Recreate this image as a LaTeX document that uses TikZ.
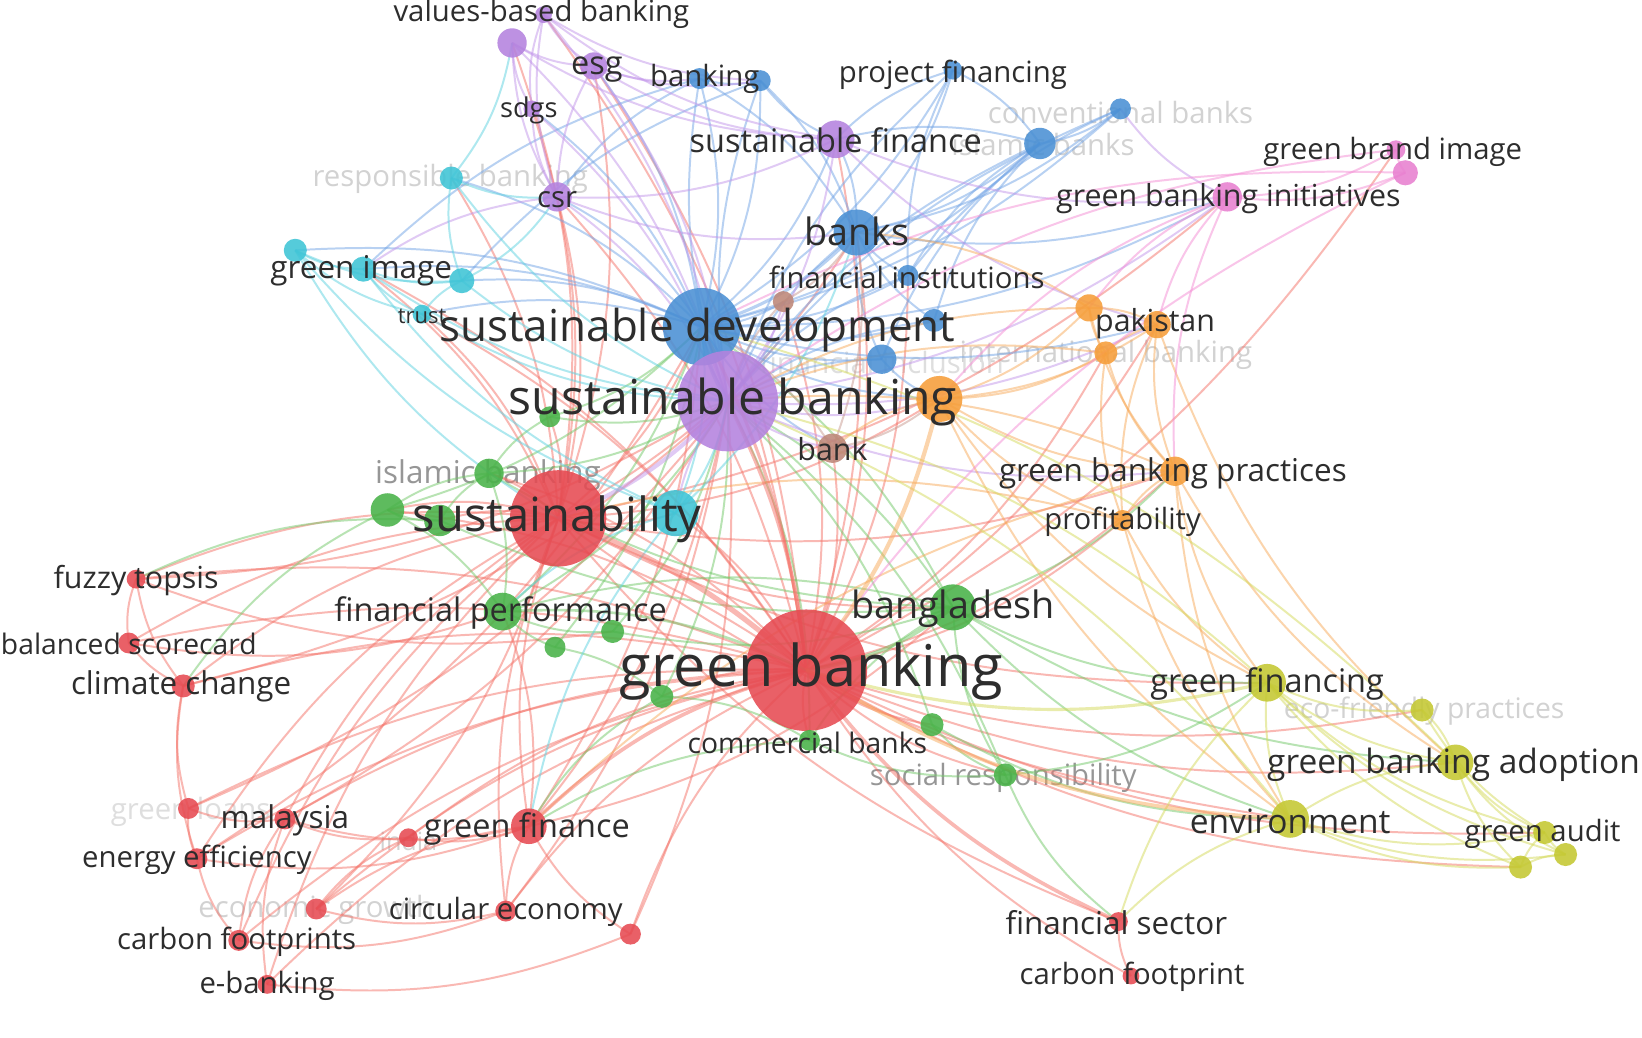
\documentclass[tikz,border=0pt]{standalone}
\usepackage{fontspec}
\setmainfont{Open Sans}
\pgfdeclarelayer{bg}
\pgfdeclarelayer{edges}
\pgfdeclarelayer{faint}
\pgfdeclarelayer{labels}
\pgfsetlayers{bg,faint,edges,main,labels}
\definecolor{cR}{RGB}{230,74,82}
\definecolor{cG}{RGB}{72,178,72}
\definecolor{cB}{RGB}{74,144,212}
\definecolor{cP}{RGB}{180,130,222}
\definecolor{cC}{RGB}{62,196,214}
\definecolor{cO}{RGB}{246,158,58}
\definecolor{cY}{RGB}{196,200,50}
\definecolor{cK}{RGB}{232,128,208}
\definecolor{cN}{RGB}{190,135,120}
\definecolor{eR}{RGB}{245,115,105}
\definecolor{eG}{RGB}{115,200,105}
\definecolor{eB}{RGB}{115,165,230}
\definecolor{eP}{RGB}{195,150,235}
\definecolor{eC}{RGB}{95,210,225}
\definecolor{eO}{RGB}{248,170,90}
\definecolor{eY}{RGB}{212,218,90}
\definecolor{eK}{RGB}{245,140,212}
\definecolor{eN}{RGB}{200,155,145}
\definecolor{labc}{RGB}{45,45,45}
\definecolor{faintc}{RGB}{210,210,210}
\definecolor{vfaintc}{RGB}{222,222,222}
\definecolor{midc}{RGB}{150,150,150}
\tikzset{
  kw/.style={circle, inner sep=0pt, minimum size=#1, fill opacity=0.88},
  lbl/.style={inner sep=0pt, text=labc},
  edgebase/.style={line width=1.9pt, opacity=0.5},
  er/.style={edgebase, draw=eR},
  eg/.style={edgebase, draw=eG},
  eb/.style={edgebase, draw=eB},
  ep/.style={edgebase, draw=eP},
  ec/.style={edgebase, draw=eC},
  eo/.style={edgebase, draw=eO},
  ey/.style={edgebase, draw=eY},
  ek/.style={edgebase, draw=eK},
  en/.style={edgebase, draw=eN},
}
\newcommand\kwn[5]{\node[kw=#4, fill=#5] (#1) at (#2,#3) {};}
\newcommand\kwl[6]{\node[lbl, text=#6, font=\fontsize{#5}{#5}\selectfont] (#1) at (#2,#3+3) {#4};}
\begin{document}
\begin{tikzpicture}[x=1pt,y=-1pt]
\useasboundingbox (0,0) rectangle (1568,991);
\begin{pgfonlayer}{bg}
\fill[white] (0,0) rectangle (1568,991);
\end{pgfonlayer}
% ---------- nodes ----------
% red
\kwn{gb}{770}{640}{116}{cR}
\kwn{sus}{533}{495}{92}{cR}
\kwn{fuz}{130}{553}{18}{cR}
\kwn{bal}{123}{614}{20}{cR}
\kwn{clim}{175}{655}{22}{cR}
\kwn{gloans}{180}{772}{20}{cR}
\kwn{mal}{272}{782}{20}{cR}
\kwn{ind}{390}{800}{18}{cR}
\kwn{gfin}{505}{789}{34}{cR}
\kwn{ee}{188}{820}{20}{cR}
\kwn{eg}{302}{868}{20}{cR}
\kwn{circ}{483}{870}{20}{cR}
\kwn{rx}{602}{892}{20}{cR}
\kwn{cfp}{228}{898}{20}{cR}
\kwn{eb}{255}{940}{18}{cR}
\kwn{fs}{1068}{880}{18}{cR}
\kwn{cf}{1080}{932}{16}{cR}
% green
\kwn{bd}{910}{580}{44}{cG}
\kwn{fp}{480}{584}{36}{cG}
\kwn{isb}{467}{452}{28}{cG}
\kwn{g1}{370}{487}{32}{cG}
\kwn{g2}{420}{497}{30}{cG}
\kwn{g3}{525}{398}{20}{cG}
\kwn{g4}{585}{603}{22}{cG}
\kwn{g5}{530}{618}{20}{cG}
\kwn{g6}{632}{665}{22}{cG}
\kwn{g7}{890}{692}{22}{cG}
\kwn{cb}{773}{707}{20}{cG}
\kwn{sr}{960}{740}{22}{cG}
% cyan
\kwn{rb}{431}{170}{22}{cC}
\kwn{gi}{347}{257}{24}{cC}
\kwn{c1}{282}{239}{22}{cC}
\kwn{c2}{441}{268}{24}{cC}
\kwn{tr}{403}{300}{18}{cC}
\kwn{c3}{645}{490}{44}{cC}
% blue
\kwn{sd}{670}{312}{74}{cB}
\kwn{bks}{818}{222}{44}{cB}
\kwn{bkg}{668}{75}{20}{cB}
\kwn{b1}{726}{77}{20}{cB}
\kwn{pf}{910}{67}{18}{cB}
\kwn{cvb}{1070}{104}{20}{cB}
\kwn{isbk}{993}{137}{30}{cB}
\kwn{fi}{867}{263}{20}{cB}
\kwn{b2}{892}{306}{22}{cB}
\kwn{finc}{842}{343}{28}{cB}
% purple
\kwn{sb}{695}{383}{96}{cP}
\kwn{sf}{798}{133}{36}{cP}
\kwn{vbb}{519}{14}{16}{cP}
\kwn{p1}{489}{41}{28}{cP}
\kwn{esg}{567}{63}{26}{cP}
\kwn{sdg}{508}{104}{16}{cP}
\kwn{csr}{532}{188}{28}{cP}
% orange
\kwn{o1}{897}{381}{44}{cO}
\kwn{pk}{1105}{310}{26}{cO}
\kwn{o2}{1040}{294}{26}{cO}
\kwn{ib}{1056}{337}{22}{cO}
\kwn{gbp}{1122}{450}{28}{cO}
\kwn{prof}{1072}{497}{20}{cO}
% pink
\kwn{gbi}{1172}{188}{28}{cK}
\kwn{gbim}{1333}{143}{18}{cK}
\kwn{pk2}{1342}{165}{24}{cK}
% yellow
\kwn{gfg}{1210}{652}{36}{cY}
\kwn{eco}{1358}{678}{22}{cY}
\kwn{gba}{1390}{728}{34}{cY}
\kwn{env}{1232}{782}{36}{cY}
\kwn{ga}{1475}{795}{22}{cY}
\kwn{y1}{1495}{816}{22}{cY}
\kwn{y2}{1452}{828}{22}{cY}
% brown
\kwn{br1}{748}{288}{20}{cN}
\kwn{bank}{795}{428}{28}{cN}
% ---------- labels ----------
\begin{pgfonlayer}{labels}
\kwl{gb-l}{775}{638}{green banking}{55}{labc}
\kwl{sus-l}{532}{493}{sustainability}{45}{labc}
\kwl{sd-l}{666}{312}{sustainable development}{42}{labc}
\kwl{sb-l}{700}{381}{sustainable banking}{46}{labc}
\kwl{bd-l}{910}{578}{bangladesh}{36}{labc}
\kwl{bks-l}{818}{218}{banks}{36}{labc}
\kwl{fp-l}{478}{582}{financial performance}{31}{labc}
\kwl{sf-l}{798}{131}{sustainable finance}{31}{labc}
\kwl{gfg-l}{1210}{650}{green financing}{31}{labc}
\kwl{gba-l}{1388}{727}{green banking adoption}{32}{labc}
\kwl{env-l}{1232}{781}{environment}{32}{labc}
\kwl{gfin-l}{503}{789}{green finance}{31}{labc}
\kwl{pk-l}{1103}{306}{pakistan}{29}{labc}
\kwl{gbp-l}{1120}{449}{green banking practices}{30}{labc}
\kwl{gbi-l}{1173}{187}{green banking initiatives}{29}{labc}
\kwl{fi-l}{866}{262}{financial institutions}{28}{labc}
\kwl{vbb-l}{517}{10}{values-based banking}{28}{labc}
\kwl{pf-l}{910}{68}{project financing}{28}{labc}
\kwl{gbim-l}{1330}{142}{green brand image}{28}{labc}
\kwl{gi-l}{345}{256}{green image}{30}{labc}
\kwl{tr-l}{403}{299}{trust}{21}{labc}
\kwl{esg-l}{570}{63}{esg}{31}{labc}
\kwl{sdg-l}{505}{102}{sdgs}{26}{labc}
\kwl{csr-l}{532}{188}{csr}{28}{labc}
\kwl{bkg-l}{673}{72}{banking}{28}{labc}
\kwl{bank-l}{795}{426}{bank}{29}{labc}
\kwl{prof-l}{1072}{495}{profitability}{28}{labc}
\kwl{fuz-l}{130}{551}{fuzzy topsis}{29}{labc}
\kwl{bal-l}{123}{612}{balanced scorecard}{27}{labc}
\kwl{clim-l}{173}{652}{climate change}{30}{labc}
\kwl{mal-l}{272}{780}{malaysia}{30}{labc}
\kwl{ee-l}{188}{818}{energy efficiency}{28}{labc}
\kwl{circ-l}{483}{868}{circular economy}{28}{labc}
\kwl{cfp-l}{226}{896}{carbon footprints}{28}{labc}
\kwl{eb-l}{255}{938}{e-banking}{28}{labc}
\kwl{cb-l}{771}{706}{commercial banks}{27}{labc}
\kwl{fs-l}{1066}{878}{financial sector}{30}{labc}
\kwl{cf-l}{1081}{930}{carbon footprint}{28}{labc}
\kwl{ga-l}{1473}{793}{green audit}{28}{labc}
\end{pgfonlayer}
\begin{pgfonlayer}{faint}
\kwl{rb-l}{430}{168}{responsible banking}{28}{faintc}
\kwl{cvb-l}{1070}{104}{conventional banks}{28}{faintc}
\kwl{isbk-l}{996}{135}{islamic banks}{28}{faintc}
\kwl{ib-l}{1056}{336}{international banking}{28}{faintc}
\kwl{finc-l}{842}{343}{financial inclusion}{28}{vfaintc}
\kwl{isb-l}{466}{451}{islamic banking}{30}{midc}
\kwl{sr-l}{958}{740}{social responsibility}{28}{midc}
\kwl{eco-l}{1360}{676}{eco-friendly practices}{27}{faintc}
\kwl{gloans-l}{182}{772}{green loans}{28}{vfaintc}
\kwl{ind-l}{390}{800}{india}{24}{faintc}
\kwl{eg-l}{302}{866}{economic growth}{28}{faintc}
\end{pgfonlayer}
% ---------- edges ----------
\begin{pgfonlayer}{edges}
\foreach \p/\q in {gb/mal, gb/ee, gb/circ, gb/eg, gb/cfp, gb/eb, gb/cf, gb/clim, gb/fuz, gb/bal, gb/gloans, gb/ind, gb/rx, gb/bks, gb/csr, gb/esg, gb/sf, gb/vbb, gb/fi, gb/gbim, gb/tr, gb/gi, gb/isb, gb/g1, gb/cb, gb/g6, gb/g7, gb/sr, gb/ga, gb/gba, gb/y2, gb/eco, gb/pk, gb/prof, gb/gbp, gb/ib, gb/bank, gb/br1, gb/c3,
 sus/fuz, sus/bal, sus/clim, sus/mal, sus/gfin, sus/ee, sus/circ, sus/eb, sus/cfp, sus/fs, sus/sd, sus/g1, sus/g2, sus/isb, sus/g3, sus/bd, sus/c3, sus/csr, sus/gi, sus/tr, sus/rb, sus/gbp, sus/o1, sus/esg, sus/sdg, sus/p1, sus/bks, sus/gbi, sus/gfg, sus/env,
 fuz/bal, bal/clim, fuz/clim, clim/gloans, clim/ee, gloans/mal, gloans/ee, mal/ind, mal/gfin, ind/gfin, ee/gfin, ee/cfp, mal/cfp, mal/eb, gfin/circ, gfin/eg, gfin/rx, eg/circ, cfp/circ, eb/rx, ind/eg, fs/cf, gfin/fp, gfin/bd, gfin/sd, gfin/sb, fuz/g4, clim/sb, gloans/sb, ee/sd, mal/sb, circ/sb, rx/sb, eg/sus, fuz/sb, bal/fp}
  \draw[er] (\p.center) to[bend right=14] (\q.center);
\foreach \p/\q in {bd/fp, bd/sb, bd/sd, bd/gfg, bd/env, bd/gba, bd/sr, bd/cb, bd/gbp, fp/g4, fp/g5, fp/isb, fp/g1, fp/sd, fp/sb, isb/g1, isb/g2, isb/sb, g1/g2, g1/sd, g3/sb, g3/sd, g3/isb, cb/sr, cb/g6, g7/sr, g7/env, g6/g5, sr/gfg, sr/fs, g1/clim, g2/fuz, g4/sb, g5/sd, g6/sb, g7/sb, cb/sb, sr/sb, g4/bd, g2/bd, isb/bd, cb/gfin, g6/gfin}
  \draw[eg] (\p.center) to[bend right=14] (\q.center);
\foreach \p/\q in {sd/sf, sd/bkg, sd/b1, sd/pf, sd/isbk, sd/cvb, sd/fi, sd/b2, sd/finc, sd/gi, sd/c1, sd/c2, sd/tr, sd/rb, sd/csr, sd/esg, sd/sdg, sd/gbi, sd/pk, sd/o1, sd/bank, sd/br1, bks/sf, bks/bkg, bks/b1, bks/pf, bks/isbk, bks/cvb, bks/fi, bks/b2, bks/finc, bks/sb, bks/gbi, isbk/cvb, isbk/pf, isbk/fi, isbk/b2, isbk/sf, isbk/sb, cvb/fi, pf/sf, pf/fi, bkg/b1, bkg/sb, bkg/csr, b1/sb, b1/sf, finc/sb, finc/o1, b2/sb, bkg/gi, b1/c2, pf/sb, fi/sb, isbk/finc, cvb/sb}
  \draw[eb] (\p.center) to[bend right=14] (\q.center);
\foreach \p/\q in {sb/sf, sb/esg, sb/csr, sb/sdg, sb/p1, sb/vbb, sb/o1, sb/bank, sb/br1, sb/gbi, sb/pk, sb/gbp, sb/c3, vbb/esg, vbb/sdg, vbb/csr, p1/esg, p1/csr, p1/sdg, esg/bkg, esg/sf, esg/csr, esg/b1, sdg/csr, csr/sf, csr/gi, csr/bks, sf/gbi, vbb/sf, vbb/b1, cvb/gbi, p1/sf, sf/pk}
  \draw[ep] (\p.center) to[bend right=14] (\q.center);
\foreach \p/\q in {rb/c2, rb/p1, c1/gi, c1/c2, c1/tr, gi/c2, gi/tr, gi/sb, c2/sb, c2/tr, tr/sb, c1/c3, gi/c3, c2/csr, c3/sb, c3/sd, c3/fp, c1/sus, rb/sb, rb/csr, c3/bks, c3/gfin}
  \draw[ec] (\p.center) to[bend right=14] (\q.center);
\foreach \p/\q in {o1/pk, o1/o2, o1/ib, o1/gbp, o1/prof, o1/env, o1/gfg, pk/o2, pk/ib, pk/gbp, pk/prof, o2/ib, o2/gbp, ib/gbp, ib/prof, gbp/prof, gbp/gfg, gbp/gba, gbp/env, prof/env, prof/gfg, pk/gba, o2/bks, ib/sb, o1/bank, o2/sb, gbp/sb, prof/sus, gbp/gfin}
  \draw[eo] (\p.center) to[bend right=14] (\q.center);
\foreach \p/\q in {gbi/gbim, gbi/pk2, gbim/pk2, gbi/pk, gbi/o1, gbi/o2, pk2/gb, gbim/sb, pk2/sd, gbi/gbp}
  \draw[ek] (\p.center) to[bend right=14] (\q.center);
\foreach \p/\q in {gfg/gba, gfg/env, gfg/eco, gfg/ga, gfg/y1, gfg/y2, gba/env, gba/eco, gba/ga, gba/y1, gba/y2, env/ga, env/y1, env/y2, eco/ga, ga/y1, ga/y2, y1/y2, env/fs, gfg/fs, gfg/sb, env/sb, gba/sd}
  \draw[ey] (\p.center) to[bend right=14] (\q.center);
\foreach \p/\q in {bank/sd, br1/bks, bank/bks, bank/o1, br1/sb}
  \draw[en] (\p.center) to[bend right=14] (\q.center);
% heavier links
\draw[er, line width=5pt] (gb.center) to[bend right=10] (sus.center);
\draw[er, line width=3.5pt] (gb.center) to[bend right=14] (gfin.center);
\draw[er, line width=3.5pt] (gb.center) to[bend right=14] (fs.center);
\draw[er, line width=3.5pt] (gb.center) to[bend right=10] (sb.center);
\draw[er, line width=3pt] (gb.center) to[bend right=10] (sd.center);
\draw[eg, line width=3.5pt] (gb.center) to[bend right=14] (bd.center);
\draw[eg, line width=2.5pt] (gb.center) to[bend right=14] (fp.center);
\draw[eo, line width=4pt] (gb.center) to[bend right=12] (o1.center);
\draw[eo, line width=3.5pt] (gb.center) to[bend right=14] (env.center);
\draw[ey, line width=3pt] (gb.center) to[bend right=14] (gfg.center);
\draw[ep, line width=4pt] (sus.center) to[bend right=12] (sb.center);
\draw[eb, line width=4pt] (sd.center) to[bend right=12] (sb.center);
\draw[eb, line width=3pt] (sd.center) to[bend right=14] (bks.center);
\end{pgfonlayer}
\end{tikzpicture}
\end{document}
